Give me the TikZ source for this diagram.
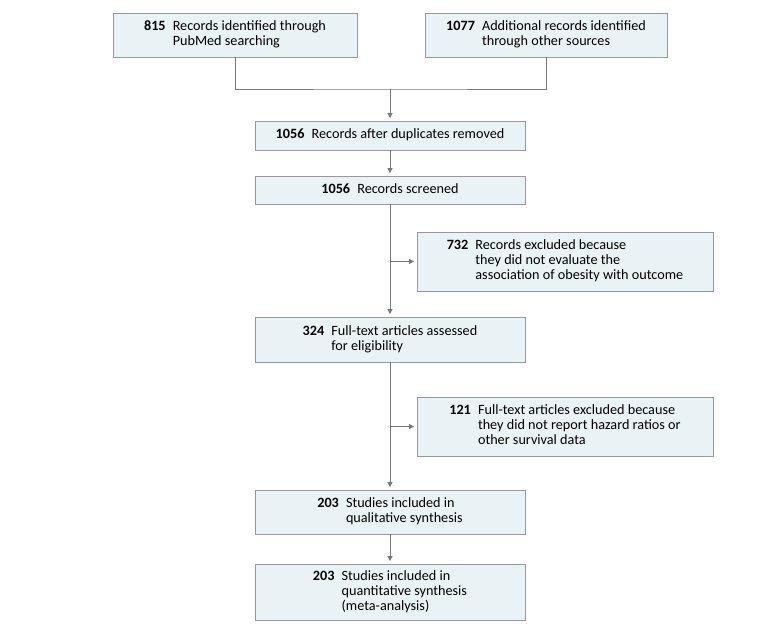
\documentclass[tikz,border=0pt]{standalone}
\usepackage{fontspec}
\setmainfont{Carlito}
\usetikzlibrary{arrows.meta}

\definecolor{boxfill}{RGB}{233,243,245}
\definecolor{boxline}{RGB}{150,152,154}
\definecolor{linkgray}{RGB}{118,120,122}

% getal vet, tekst links uitgelijnd ernaast
\newcommand{\flowentry}[2]{\textbf{#1}\enspace\begin{tabular}[t]{@{}l@{}}#2\end{tabular}}

\tikzset{
    flowbox/.style={draw=boxline, fill=boxfill, line width=0.8pt, inner sep=0pt,
        font=\fontsize{14.2}{15}\selectfont},
    link/.style={draw=linkgray, line width=0.8pt},
    linkarrow/.style={link, -{Triangle[length=5pt,width=5pt]}, shorten >=2.5pt}
}

\begin{document}
\begin{tikzpicture}[x=1pt, y=-1pt]
    \useasboundingbox (0,0) rectangle (780,634);
    \renewcommand{\arraystretch}{1}

    % Bronnen bovenaan
    \node[flowbox, minimum width=244pt, minimum height=44pt] (pubmed) at (235,35)
        {\flowentry{815}{Records identified through\\PubMed searching}};
    \node[flowbox, minimum width=242pt, minimum height=44pt] (other) at (546,35)
        {\flowentry{1077}{Additional records identified\\through other sources}};

    % Hoofdkolom
    \node[flowbox, minimum width=270pt, minimum height=29pt] (dedup) at (390,135.5)
        {\flowentry{1056}{Records after duplicates removed}};
    \node[flowbox, minimum width=270pt, minimum height=28pt] (screened) at (390,190)
        {\flowentry{1056}{Records screened}};
    \node[flowbox, minimum width=270pt, minimum height=45pt] (fulltext) at (390,339.5)
        {\flowentry{324}{Full-text articles assessed\\for eligibility}};
    \node[flowbox, minimum width=270pt, minimum height=44pt] (qualit) at (390,512)
        {\flowentry{203}{Studies included in\\qualitative synthesis}};
    \node[flowbox, minimum width=270pt, minimum height=56pt] (quantit) at (390,592)
        {\flowentry{203}{Studies included in\\quantitative synthesis\\(meta-analysis)}};

    % Uitgesloten records rechts
    \node[flowbox, minimum width=296pt, minimum height=59pt] (excl1) at (565,261.5)
        {\flowentry{732}{Records excluded because\\they did not evaluate the\\association of obesity with outcome}};
    \node[flowbox, minimum width=296pt, minimum height=59pt] (excl2) at (565,426.5)
        {\flowentry{121}{Full-text articles excluded because\\they did not report hazard ratios or\\other survival data}};

    % Verbindingen
    \coordinate (join) at (390,89);
    \draw[link] (pubmed.south) |- (join) -| (other.south);
    \draw[linkarrow] (join) -- (dedup.north);
    \draw[linkarrow] (dedup) -- (screened);
    \draw[linkarrow] (screened) -- (fulltext);
    \draw[linkarrow] (screened.south |- excl1.west) -- (excl1.west);
    \draw[linkarrow] (fulltext) -- (qualit);
    \draw[linkarrow] (fulltext.south |- excl2.west) -- (excl2.west);
    \draw[linkarrow] (qualit) -- (quantit);
\end{tikzpicture}
\end{document}
